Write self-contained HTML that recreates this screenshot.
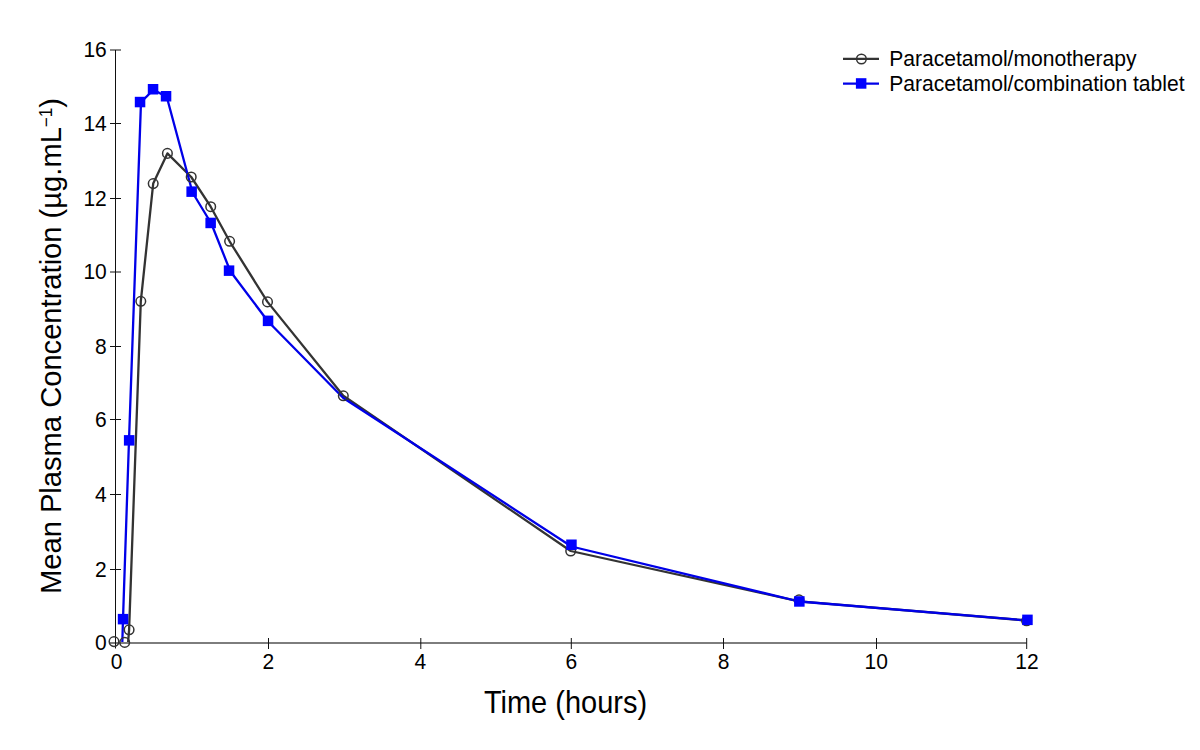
<!DOCTYPE html>
<html><head><meta charset="utf-8">
<style>
html,body{margin:0;padding:0;background:#fff;}
body{width:1200px;height:750px;overflow:hidden;}
svg{display:block;}
text{font-family:"Liberation Sans",sans-serif;fill:#000;}
</style></head>
<body>
<svg width="1200" height="750" viewBox="0 0 1200 750">
<rect width="1200" height="750" fill="#fff"/>
<text transform="translate(106.8 57.2) scale(1 1.06)" font-size="21" text-anchor="end">16</text>
<text transform="translate(106.8 130.7) scale(1 1.06)" font-size="21" text-anchor="end">14</text>
<text transform="translate(106.8 205.7) scale(1 1.06)" font-size="21" text-anchor="end">12</text>
<text transform="translate(106.8 279.2) scale(1 1.06)" font-size="21" text-anchor="end">10</text>
<text transform="translate(106.8 353.7) scale(1 1.06)" font-size="21" text-anchor="end">8</text>
<text transform="translate(106.8 426.7) scale(1 1.06)" font-size="21" text-anchor="end">6</text>
<text transform="translate(106.8 501.7) scale(1 1.06)" font-size="21" text-anchor="end">4</text>
<text transform="translate(106.8 576.7) scale(1 1.06)" font-size="21" text-anchor="end">2</text>
<text transform="translate(106.8 650.2) scale(1 1.06)" font-size="21" text-anchor="end">0</text>
<text transform="translate(116.5 668.6) scale(1 1.06)" font-size="21" text-anchor="middle">0</text>
<text transform="translate(268.4 668.6) scale(1 1.06)" font-size="21" text-anchor="middle">2</text>
<text transform="translate(420.3 668.6) scale(1 1.06)" font-size="21" text-anchor="middle">4</text>
<text transform="translate(571.35 668.6) scale(1 1.06)" font-size="21" text-anchor="middle">6</text>
<text transform="translate(723.65 668.6) scale(1 1.06)" font-size="21" text-anchor="middle">8</text>
<text transform="translate(876.2 668.6) scale(1 1.06)" font-size="21" text-anchor="middle">10</text>
<text transform="translate(1027.05 668.6) scale(1 1.06)" font-size="21" text-anchor="middle">12</text>
<text transform="translate(565.5 712.9) scale(1 1.055)" font-size="29" text-anchor="middle">Time (hours)</text>
<text transform="translate(60.9 346) rotate(-90) scale(1.005 1.04)" font-size="29" text-anchor="middle">Mean Plasma Concentration (µg.mL<tspan font-size="17" dy="-9">−1</tspan><tspan dy="9">)</tspan></text>
<polyline points="128,643.5 129.1,629.8 140.8,301.3 153.2,183.6 167.4,153.4 191.2,177 210.7,206.7 229.6,241.3 267.5,301.9 343.3,395.8 570.7,551 799,601.3 1026.6,620.5" fill="none" stroke="#333333" stroke-width="2.3" stroke-linejoin="round"/>
<polyline points="122.3,643 123,619.1 129.0,440.4 141.0,102.1 153.5,89.8 166.8,97 192.5,192.5 211.3,223.5 230.3,271.2 268.1,321.5 343.3,398 571.5,546.5 799.4,601.5 1027.4,620.5" fill="none" stroke="#0000e8" stroke-width="2.3" stroke-linejoin="round"/>
<rect x="115" y="642" width="911.7" height="2" fill="#7d7d7d"/>
<g stroke="#111" stroke-width="1">
<line x1="110" y1="50" x2="121" y2="50"/>
<line x1="110" y1="123.5" x2="121" y2="123.5"/>
<line x1="110" y1="198.5" x2="121" y2="198.5"/>
<line x1="110" y1="272" x2="121" y2="272"/>
<line x1="110" y1="346.5" x2="121" y2="346.5"/>
<line x1="110" y1="419.5" x2="121" y2="419.5"/>
<line x1="110" y1="494.5" x2="121" y2="494.5"/>
<line x1="110" y1="569.5" x2="121" y2="569.5"/>
</g>
<rect x="110" y="642" width="11" height="2" fill="#7d7d7d"/>
<line x1="115.5" y1="50" x2="115.5" y2="648.5" stroke="#111" stroke-width="1"/>
<g stroke="#111" stroke-width="1">
<line x1="268.5" y1="638" x2="268.5" y2="649"/>
<line x1="420.8" y1="638" x2="420.8" y2="649"/>
<line x1="571.3" y1="638" x2="571.3" y2="649"/>
<line x1="723.5" y1="638" x2="723.5" y2="649"/>
<line x1="876.5" y1="638" x2="876.5" y2="649"/>
<line x1="1026.7" y1="638" x2="1026.7" y2="649"/>
</g>
<g fill="none" stroke="#333333" stroke-width="1.5">
<circle cx="114" cy="641.6" r="4.8"/>
<circle cx="124.7" cy="642.4" r="4.8"/>
<circle cx="129.1" cy="629.8" r="4.8"/>
<circle cx="140.8" cy="301.3" r="4.8"/>
<circle cx="153.2" cy="183.6" r="4.8"/>
<circle cx="167.4" cy="153.4" r="4.8"/>
<circle cx="191.2" cy="177" r="4.8"/>
<circle cx="210.7" cy="206.7" r="4.8"/>
<circle cx="229.6" cy="241.3" r="4.8"/>
<circle cx="267.5" cy="301.9" r="4.8"/>
<circle cx="343.3" cy="395.8" r="4.8"/>
<circle cx="570.7" cy="551" r="4.8"/>
<circle cx="799" cy="599.8" r="4.8"/>
<circle cx="1026.6" cy="620.8" r="4.8"/>
</g>
<g fill="#0000ff">
<rect x="117.8" y="613.9" width="10.5" height="10.5"/>
<rect x="123.9" y="435.1" width="10.5" height="10.5"/>
<rect x="134.8" y="96.8" width="10.5" height="10.5"/>
<rect x="147.8" y="84.0" width="10.5" height="10.5"/>
<rect x="160.8" y="91.0" width="10.5" height="10.5"/>
<rect x="186.4" y="186.4" width="10.5" height="10.5"/>
<rect x="205.4" y="217.7" width="10.5" height="10.5"/>
<rect x="223.8" y="265.4" width="10.5" height="10.5"/>
<rect x="262.8" y="315.6" width="10.5" height="10.5"/>
<rect x="566.2" y="539.5" width="10.5" height="10.5"/>
<rect x="794.1" y="596.2" width="10.5" height="10.5"/>
<rect x="1022.2" y="614.6" width="10.5" height="10.5"/>
</g>
<line x1="843" y1="58.8" x2="879" y2="58.8" stroke="#333333" stroke-width="2.3"/>
<circle cx="861.4" cy="59" r="4.8" fill="none" stroke="#333333" stroke-width="1.5"/>
<line x1="843" y1="83.7" x2="879" y2="83.7" stroke="#0000e8" stroke-width="2.3"/>
<rect x="855.9" y="78.2" width="10.5" height="10.5" fill="#0000ff"/>
<text transform="translate(889.2 65.7) scale(1 1.03)" font-size="21.1" text-anchor="start">Paracetamol/monotherapy</text>
<text transform="translate(889.2 91) scale(1 1.03)" font-size="21.1" text-anchor="start">Paracetamol/combination tablet</text>
</svg>
</body></html>
